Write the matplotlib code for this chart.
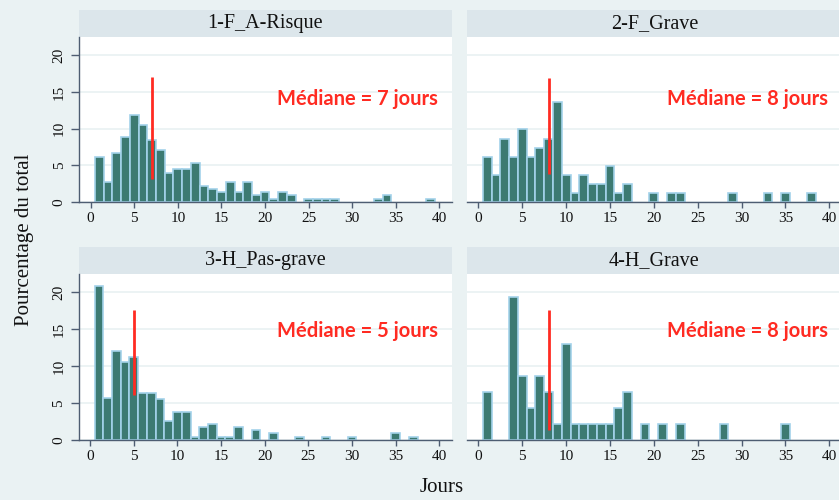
import matplotlib
matplotlib.use("Agg")
import matplotlib.pyplot as plt
from matplotlib.patches import Rectangle

# ---- data ----
titles = ["1-F_A-Risque", "2-F_Grave", "3-H_Pas-grave", "4-H_Grave"]
medians = [7, 8, 5, 8]
median_labels = ["Médiane = 7 jours", "Médiane = 8 jours", "Médiane = 5 jours", "Médiane = 8 jours"]

days_1 = [1, 2, 3, 4, 5, 6, 7, 8, 9, 10, 11, 12, 13, 14, 15, 16, 17, 18, 19, 20,
          21, 22, 23, 25, 26, 27, 28, 33, 34, 39]
pct_1 = [6.2, 2.7, 6.7, 8.8, 11.9, 10.5, 8.4, 7.1, 4.0, 4.5, 4.5, 5.3, 2.2, 1.8, 1.3, 2.7, 1.3, 2.7, 0.9, 1.3,
         0.45, 1.3, 0.9, 0.45, 0.45, 0.45, 0.45, 0.45, 0.9, 0.45]

days_2 = [1, 2, 3, 4, 5, 6, 7, 8, 9, 10, 11, 12, 13, 14, 15, 16, 17, 20, 22, 23, 29, 33, 35, 38]
pct_2 = [6.2, 3.7, 8.6, 6.2, 9.9, 6.2, 7.4, 8.6, 13.6, 3.7, 1.2, 3.7, 2.5, 2.5, 4.9, 1.2, 2.5,
         1.2, 1.2, 1.2, 1.2, 1.2, 1.2, 1.2]

days_3 = [1, 2, 3, 4, 5, 6, 7, 8, 9, 10, 11, 12, 13, 14, 15, 16, 17, 19, 21, 24, 27, 30, 35, 37]
pct_3 = [20.9, 5.7, 12.0, 10.6, 11.2, 6.4, 6.4, 5.6, 2.6, 3.8, 3.8, 0.45, 1.7, 2.2, 0.45, 0.45, 1.7,
         1.3, 0.9, 0.45, 0.45, 0.45, 0.9, 0.45]

days_4 = [1, 4, 5, 6, 7, 8, 9, 10, 11, 12, 13, 14, 15, 16, 17, 19, 21, 23, 28, 35]
pct_4 = [6.5, 19.4, 8.7, 4.3, 8.7, 6.5, 2.2, 13.0, 2.2, 2.2, 2.2, 2.2, 2.2, 4.3, 6.5,
         2.2, 2.2, 2.2, 2.2, 2.2]

median_line_low = [3.2, 3.8, 6.1, 1.3]
median_line_high = [17.1, 16.9, 17.6, 17.6]
label_y = [14.1, 14.1, 14.8, 14.8]

x_ticks = [0, 5, 10, 15, 20, 25, 30, 35, 40]
y_ticks = [0, 5, 10, 15, 20]

# ---- style ----
BG = "#EAF2F3"
BAND = "#DCE6EB"
BAR = "#3C7A72"
EDGE = "#A3D2EA"
AXC = "#4E5D72"
RED = "#FF2B22"
SERIF = ["Liberation Serif", "DejaVu Serif"]

W, H = 839, 500
fig = plt.figure(figsize=(W / 100, H / 100), dpi=100, facecolor=BG)

positions = [
    (79, 37, 452, 202),
    (466.7, 37, 842, 202),
    (78.5, 274, 452, 440),
    (466.7, 274, 842, 440),
]
data = [(days_1, pct_1), (days_2, pct_2), (days_3, pct_3), (days_4, pct_4)]

for i, (pos, (d, p)) in enumerate(zip(positions, data)):
    l, t, r, b = pos
    ax = fig.add_axes([l / W, 1 - b / H, (r - l) / W, (b - t) / H])
    ax.set_facecolor("white")
    ax.set_xlim(-1.34, 41.45)
    ax.set_ylim(0, 22.5)
    ax.bar(d, p, width=1.0, color=BAR, edgecolor=EDGE, linewidth=1.2, zorder=2)
    ax.plot([medians[i], medians[i]], [median_line_low[i], median_line_high[i]],
            color=RED, lw=2.0, zorder=3, solid_capstyle="butt")
    ax.text(39.8, label_y[i], median_labels[i], ha="right", va="center",
            color=RED, fontsize=14.5, fontweight="bold", family=["Lato", "DejaVu Sans"], zorder=4)

    ax.set_yticks(y_ticks)
    ax.yaxis.grid(True, color=BG, lw=1.3, zorder=0)
    ax.set_axisbelow(True)
    ax.set_xticks(x_ticks)
    ax.set_xticklabels([str(v) for v in x_ticks], family=SERIF, fontsize=11)
    for s in ["top", "right"]:
        ax.spines[s].set_visible(False)
    ax.spines["bottom"].set_color(AXC)
    ax.spines["bottom"].set_linewidth(1.0)
    ax.tick_params(axis="x", length=4.5, width=1.0, color=AXC, pad=3, labelcolor="#111111")
    if i in (0, 2):
        ax.spines["left"].set_color(AXC)
        ax.spines["left"].set_linewidth(1.0)
        ax.set_yticklabels([str(v) for v in y_ticks], family=SERIF, fontsize=11,
                           rotation=90, va="center")
        ax.tick_params(axis="y", length=5.5, width=1.0, color=AXC, pad=4, labelcolor="#111111")
    else:
        ax.spines["left"].set_visible(False)
        ax.tick_params(axis="y", length=0, labelleft=False)

    band_h = 27.5 / (b - t)
    ax.add_patch(Rectangle((0, 1), 1, band_h, transform=ax.transAxes,
                           facecolor=BAND, edgecolor="none", clip_on=False, zorder=1))
    ax.text(0.5, 1 + band_h / 2, titles[i], transform=ax.transAxes, ha="center",
            va="center", family=SERIF, fontsize=14.5, color="#111111")

fig.text(25 / W, 1 - 240 / H, "Pourcentage du total", rotation=90, ha="center",
         va="center", family=SERIF, fontsize=15, color="#111111")
fig.text(442 / W, 1 - 488 / H, "Jours", ha="center", va="center",
         family=SERIF, fontsize=15, color="#111111")

fig.savefig("out.png", dpi=100, facecolor=BG)
